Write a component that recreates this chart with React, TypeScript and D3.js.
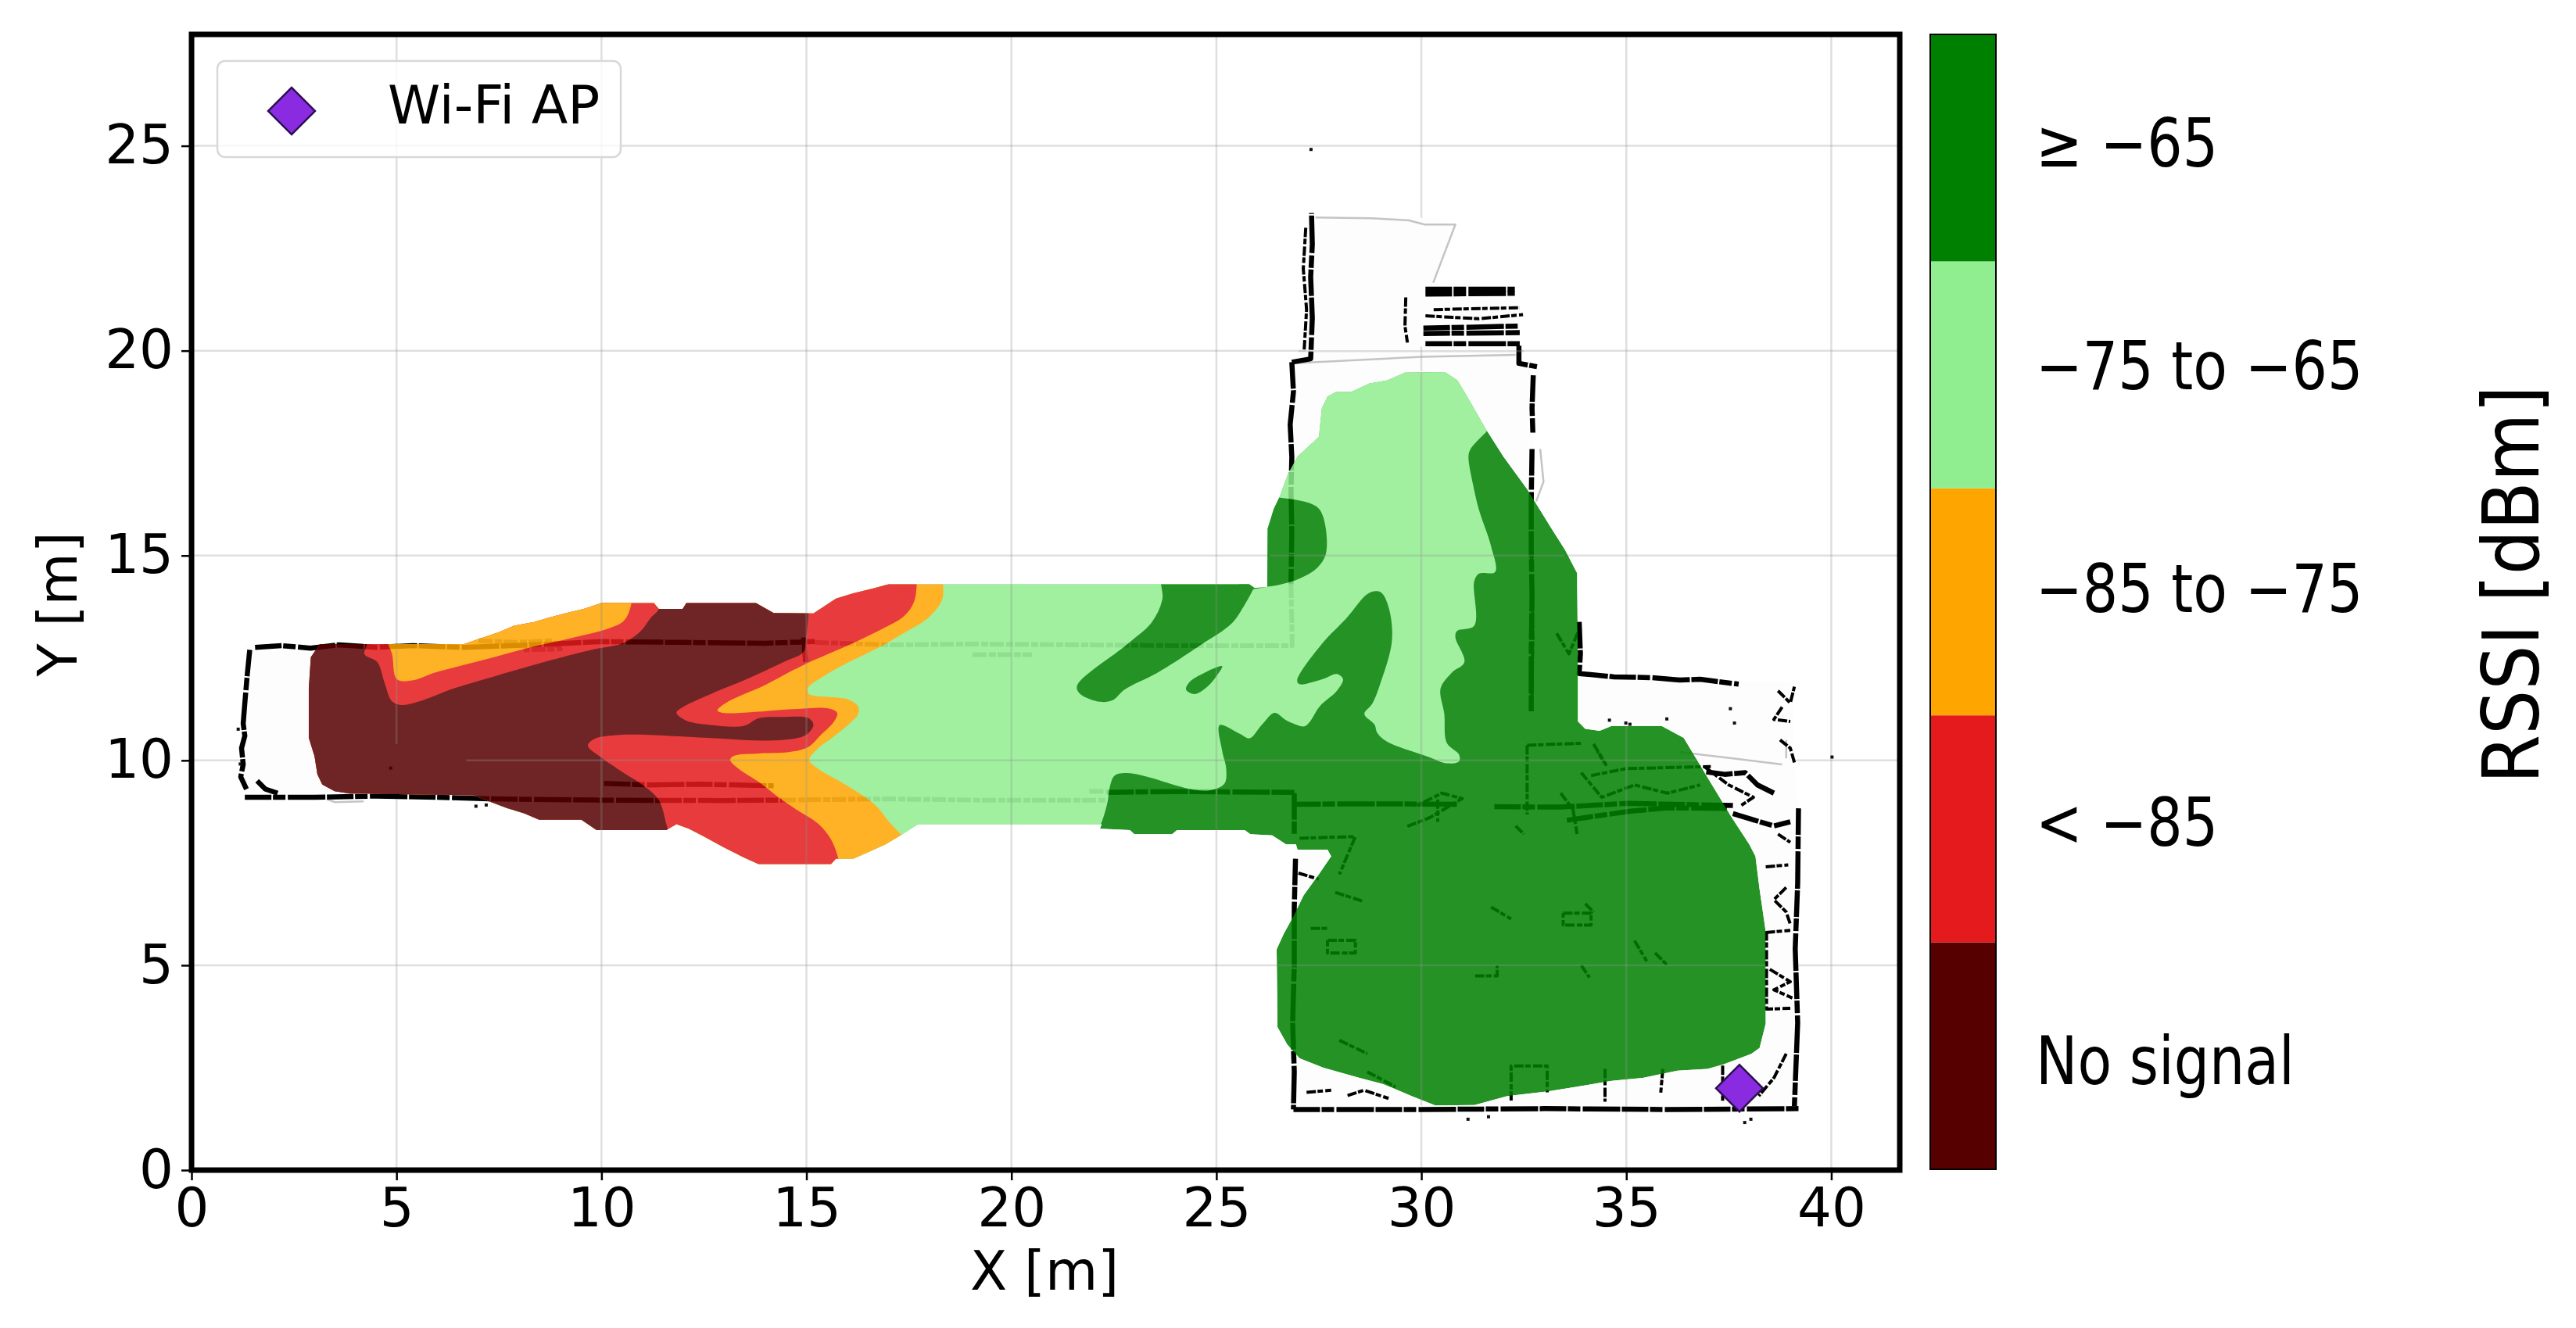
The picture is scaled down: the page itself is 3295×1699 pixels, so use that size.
import { useRef, useEffect } from 'react';
import * as d3 from 'd3';

type Pt = [number, number];

const xTicks = [0, 5, 10, 15, 20, 25, 30, 35, 40];
const yTicks = [0, 5, 10, 15, 20, 25];
const rssiLabels = ['No signal', '< \u221285', '\u221285 to \u221275', '\u221275 to \u221265', '\u2265 \u221265'];
const rssiColors = ['#570000', '#e41a1c', '#ffa500', '#90ee90', '#008000'];
const rssiNudge = [36, 22, 13, 18, 24];
const apPosition: Pt = [37.76, 2.0];

const coverage: Pt[] = [
  [3.13, 12.84], [6.65, 12.84], [7.02, 12.97], [7.5, 13.13], [7.87, 13.29], [8.36, 13.38], [8.73, 13.49],
  [9.15, 13.6], [9.57, 13.7], [10, 13.84], [11.28, 13.84], [11.4, 13.7], [11.98, 13.7], [12.07, 13.84],
  [13.77, 13.84], [14.2, 13.6], [15.17, 13.59], [15.72, 13.95], [16.14, 14.08], [16.63, 14.2], [17, 14.3],
  [25.8, 14.3], [25.93, 14.21], [26.24, 14.23], [26.25, 15.66], [26.4, 16.14], [26.54, 16.43], [26.74, 16.98],
  [26.98, 17.42], [27.5, 17.9], [27.57, 18.59], [27.71, 18.88], [27.91, 18.99], [28.3, 19], [28.73, 19.2],
  [29.17, 19.28], [29.6, 19.47], [30.58, 19.48], [30.88, 19.28], [31.12, 18.88], [31.56, 18.11], [32, 17.42],
  [32.58, 16.62], [33.17, 15.67], [33.5, 15.15], [33.8, 14.57], [33.82, 12.34], [33.82, 10.95], [34, 10.77],
  [34.35, 10.72], [34.64, 10.84], [35.86, 10.84], [36.4, 10.55], [36.73, 10], [37.08, 9.42], [37.57, 8.61],
  [38, 7.95], [38.15, 7.66], [38.25, 6.86], [38.4, 5.83], [38.4, 3.57], [38.25, 2.98], [38.05, 2.84],
  [37.37, 2.58], [36.98, 2.47], [36.25, 2.43], [35.4, 2.25], [34.65, 2.18], [33.77, 2.03], [33.09, 1.92],
  [32.1, 1.81], [31.3, 1.59], [30.34, 1.58], [29.76, 1.81], [29.07, 2.1], [28.49, 2.25], [27.61, 2.5],
  [27.03, 2.73], [26.73, 3.06], [26.49, 3.49], [26.47, 5.39], [26.64, 5.76], [26.88, 6.2], [27.13, 6.71],
  [27.5, 7.22], [27.8, 7.66], [27.71, 7.82], [26.98, 7.82], [26.94, 7.95], [26.7, 7.95], [26.36, 8.17],
  [25.83, 8.2], [25.69, 8.3], [24.04, 8.3], [23.92, 8.2], [23, 8.2], [22.89, 8.3], [22.16, 8.33], [22.2, 8.44],
  [17.72, 8.44], [17.3, 8.17], [16.93, 7.95], [16.51, 7.76], [16.14, 7.6], [15.72, 7.6], [15.6, 7.47],
  [13.83, 7.47], [13.47, 7.63], [12.98, 7.88], [12.5, 8.14], [12.13, 8.33], [11.83, 8.44], [11.58, 8.3],
  [9.88, 8.3], [9.51, 8.55], [8.48, 8.55], [8.11, 8.71], [7.69, 8.84], [7.26, 9], [6.9, 9.15], [4.22, 9.19],
  [3.86, 9.19], [3.49, 9.25], [3.19, 9.41], [3.07, 9.66], [3, 10.1], [2.86, 10.55], [2.86, 11.76], [2.91, 12.52],
];

const lightGreenBand: Pt[] = [
  [32.2, 18.7], [31.6, 18.04], [31.2, 17.6], [31.15, 17.42], [31.27, 16.69], [31.41, 16.1], [31.7, 15.23],
  [31.8, 14.6], [31.41, 14.56], [31.29, 14.37], [31.29, 13.29], [30.87, 13.16], [30.83, 13], [31.05, 12.4],
  [30.74, 12.14], [30.47, 11.76], [30.56, 11.13], [30.62, 10.43], [30.92, 10.14], [30.92, 9.98], [30.62, 9.93],
  [30.19, 10.08], [29.16, 10.46], [28.92, 10.68], [28.86, 10.87], [28.61, 11.13], [28.8, 11.38], [28.98, 11.82],
  [29.28, 12.9], [29.22, 13.67], [29.04, 14.08], [28.89, 14.13], [28.67, 14.05], [28.18, 13.48], [27.57, 12.84],
  [26.97, 11.95], [27.03, 11.86], [27.58, 11.98], [27.94, 12.11], [28.09, 11.98], [27.94, 11.7], [27.52, 11.32],
  [27.27, 10.93], [27.15, 10.83], [26.72, 10.97], [26.42, 11.16], [26.11, 10.87], [25.81, 10.54], [25.57, 10.65],
  [25.08, 10.86], [25.14, 10.24], [25.24, 9.79], [25.2, 9.44], [24.9, 9.28], [24.47, 9.28], [24.04, 9.38],
  [23.31, 9.6], [22.83, 9.69], [22.52, 9.63], [22.4, 9.35], [22.34, 8.96], [22.16, 8.39], [21.85, 7.9],
  [5, 7], [5, 20], [32, 20],
];

const greenIslandA: Pt[] = [
  [23.7, 14.6], [23.68, 13.92], [23.43, 13.38], [22.83, 12.84], [21.6, 11.82], [21.67, 11.63], [22.16, 11.43],
  [22.47, 11.47], [22.76, 11.73], [23.56, 12.14], [24.65, 12.84], [25.38, 13.35], [25.69, 13.8], [25.9, 14.18],
  [26.1, 14.6],
];
const greenIslandB: Pt[] = [
  [25.14, 12.3], [24.71, 12.14], [24.35, 11.92], [24.26, 11.73], [24.47, 11.62], [24.77, 11.79], [25.02, 12.08],
];
const greenIslandC: Pt[] = [
  [26.56, 16.41], [27.42, 16.21], [27.6, 15.96], [27.68, 15.08], [27.47, 14.71], [26.98, 14.42], [26.25, 14.24],
  [25.6, 14.24], [25.6, 16.41],
];

const orangeFront: Pt[] = [
  [18.33, 14.8], [18.33, 14.37], [18.31, 13.92], [17.97, 13.48], [17.36, 13.1], [16.87, 12.81], [15.9, 12.33],
  [15.41, 12.05], [15.05, 11.79], [15.05, 11.63], [15.65, 11.54], [16.01, 11.49], [16.26, 11.32], [16.26, 11.13],
  [16.02, 10.87], [15.66, 10.58], [15.29, 10.3], [15.07, 10.01], [15.29, 9.79], [15.9, 9.44], [16.45, 9.09],
  [16.75, 8.84], [17, 8.52], [17.3, 8.2], [17.48, 8], [18.33, 7.25], [4, 7], [4, 14.8],
];

const redFront: Pt[] = [
  [17.69, 14.8], [17.69, 14.3], [17.62, 13.86], [17.37, 13.51], [16.75, 13.16], [16.02, 12.81], [14.93, 12.33],
  [13.95, 11.82], [13.1, 11.44], [12.83, 11.22], [12.97, 11.16], [13.7, 11.18], [14.68, 11.25], [15.53, 11.27],
  [15.75, 11.16], [15.66, 10.93], [15.35, 10.62], [15.05, 10.33], [14.56, 10.2], [13.84, 10.17], [13.23, 10.11],
  [13.14, 10.01], [13.35, 9.79], [13.84, 9.47], [14.33, 9.09], [14.8, 8.77], [15.29, 8.45], [15.6, 8.07],
  [15.78, 7.6], [15.9, 6.9], [2, 6.9], [2, 14.8],
];

const orangeTopLeft: Pt[] = [
  [4.77, 13.2], [4.8, 12.84], [4.89, 12.6], [5.01, 11.98], [5.38, 11.95], [5.92, 12.14], [6.53, 12.3], [7.38, 12.52],
  [8.36, 12.78], [9.33, 13], [10.18, 13.22], [10.55, 13.41], [10.73, 13.83], [10.73, 14.3], [4.77, 14.3],
];

const noSignal: Pt[] = [
  [4.28, 14], [4.28, 12.85], [4.22, 12.59], [4.53, 12.4], [4.71, 11.89], [4.89, 11.44], [5.13, 11.35], [5.56, 11.44],
  [6.41, 11.76], [7.38, 12.05], [8.6, 12.4], [9.81, 12.71], [10.54, 12.87], [10.96, 13.16], [11.2, 13.48], [11.4, 13.7],
  [11.4, 13.98], [15.05, 13.98], [15.05, 13.59], [14.99, 12.97], [14.93, 12.65], [14.44, 12.4], [13.47, 11.95],
  [12.62, 11.6], [11.95, 11.28], [11.83, 11.16], [12.07, 10.97], [12.62, 10.87], [13.47, 10.84], [13.84, 11.03],
  [14.44, 11.06], [15.05, 11.03], [15.17, 10.87], [14.99, 10.62], [14.44, 10.5], [13.71, 10.49], [12.62, 10.55],
  [11.64, 10.6], [10.43, 10.62], [9.82, 10.52], [9.67, 10.36], [9.94, 10.11], [10.55, 9.69], [11.03, 9.38],
  [11.4, 9.03], [11.58, 8.45], [11.64, 8.2], [11.64, 7.9], [2, 7.9], [2, 14],
];

// floor plan
const floorOutline: Pt[] = [
  [1.3, 12.8], [26.85, 12.8], [26.85, 19.76], [27.18, 19.8], [27.25, 23.3], [30.41, 23.23], [30.83, 23.08], [30.29, 21.66],
  [32.4, 21.6], [32.4, 19.7], [32.75, 19.5], [32.7, 12.1], [39.1, 11.9], [39.1, 9.9], [39.2, 8.83], [39.2, 1.5],
  [26.9, 1.5], [26.9, 9.1], [1.3, 9.1],
];

const blackWalls: Pt[][] = [
  [[1.55, 12.76], [2.2, 12.8], [2.9, 12.74], [3.6, 12.82], [4.5, 12.76], [5.4, 12.8], [6.65, 12.76], [8.8, 12.84], [10, 12.9], [12, 12.88], [14, 12.86], [15.2, 12.9]],
  [[1.42, 12.7], [1.36, 12.1], [1.3, 11.4], [1.26, 10.9], [1.3, 10.6], [1.22, 10.3], [1.26, 9.9], [1.2, 9.6], [1.34, 9.3]],
  [[1.3, 9.1], [3, 9.1], [4.5, 9.13], [6, 9.1], [7.3, 9.06], [10, 9.03], [13, 9.02], [14.4, 9.03]],
  [[1.6, 9.5], [1.8, 9.3], [2.1, 9.2]],
  [[10.06, 9.44], [11.2, 9.4], [12.4, 9.42], [14.2, 9.38]],
  [[14.93, 13], [14.98, 12.4]],
  [[26.84, 19.72], [26.88, 19], [26.8, 18.2], [26.84, 17.4], [26.82, 16.6], [26.84, 15.6], [26.82, 14.3]],
  [[26.84, 19.72], [27.3, 19.8], [27.34, 20.8], [27.3, 21.8], [27.34, 22.6], [27.32, 23.36]],
  [[30.1, 21.5], [32.28, 21.5]],
  [[30.1, 21.38], [32.28, 21.4]],
  [[30.05, 20.55], [32.35, 20.6]],
  [[30.05, 20.42], [32.4, 20.44]],
  [[30.1, 20.17], [32.4, 20.17]],
  [[32.38, 20.12], [32.38, 19.69], [32.82, 19.61]],
  [[32.73, 19.4], [32.7, 18.6], [32.72, 18]],
  [[32.7, 17.6], [32.68, 16.32], [32.68, 15.2], [32.7, 14], [32.68, 12.6], [32.68, 11.2]],
  [[33.85, 13.38], [33.88, 12.6], [33.85, 12.12], [34.7, 12.04], [35.6, 12.02], [36.3, 11.96], [36.8, 11.98], [37.74, 11.86]],
  [[26.93, 7.6], [26.9, 6.4], [26.9, 5], [26.86, 3.6], [26.9, 2.4], [26.88, 1.48]],
  [[26.88, 1.48], [30, 1.48], [33, 1.5], [36, 1.48], [39.2, 1.5]],
  [[39.2, 8.83], [39.18, 7], [39.12, 5.4], [39.18, 3.6], [39.1, 1.56]],
  [[36.95, 9.72], [37.4, 9.66], [37.9, 9.7], [38.2, 9.4], [38.6, 9.2]],
  [[37.6, 8.7], [38.1, 8.55], [38.6, 8.4], [39, 8.5]],
  [[33.55, 8.54], [35.1, 8.76], [36, 8.84], [37.45, 8.83]],
  [[31.78, 8.87], [33.4, 8.86], [35, 8.95], [37.6, 8.9]],
  [[22.34, 9.22], [24, 9.24], [26.9, 9.22]],
  [[26.9, 8.93], [28.6, 8.94], [30.87, 8.93]],
  [[26.9, 9.2], [26.9, 8.2]],
];

const thinBlackWalls: Pt[][] = [
  [[27.18, 23], [27.12, 22], [27.2, 21], [27.14, 20]],
  [[29.62, 21.3], [29.6, 20.6], [29.66, 20.2]],
  [[30.3, 21], [31, 21.02], [32.4, 21.05]],
  [[30.1, 20.85], [31.4, 20.78], [32.48, 20.88]],
  [[32.69, 15], [32.72, 13], [32.69, 11.2]],
  [[33.3, 13.1], [33.6, 12.6], [33.85, 13.2]],
  [[32.58, 10.37], [32.58, 8.68]],
  [[32.58, 10.37], [33.94, 10.42]],
  [[34.14, 9.63], [35, 9.8], [37.06, 9.85]],
  [[33.9, 9.7], [34.4, 9.1], [35.2, 9.4], [36, 9.2], [36.8, 9.4]],
  [[34.2, 10.4], [34.5, 9.9], [34.3, 10.2]],
  [[33.4, 9.2], [33.7, 8.8], [33.8, 8.2]],
  [[32.3, 8.4], [32.5, 8.2]],
  [[29.66, 8.39], [30.2, 8.6], [31, 9.07], [30.5, 9.2], [29.9, 8.9]],
  [[30.4, 9.05], [30.4, 8.5]],
  [[27.03, 8.1], [28.39, 8.14], [28, 7.22]],
  [[27.9, 6.78], [28.58, 6.56]],
  [[27.3, 5.9], [27.7, 5.9]],
  [[27.71, 5.61], [28.39, 5.61], [28.39, 5.3], [27.71, 5.3], [27.71, 5.61]],
  [[28, 3.17], [28.68, 2.84]],
  [[28.68, 2.4], [29.37, 2.03]],
  [[32.19, 1.7], [32.19, 2.54], [33.07, 2.54], [33.07, 1.9]],
  [[34.48, 2.47], [34.48, 1.67]],
  [[35.89, 2.47], [35.84, 1.89]],
  [[31.31, 4.74], [31.85, 4.74], [31.85, 5]],
  [[31.7, 6.42], [32.19, 6.13]],
  [[33.46, 6.27], [34.14, 6.27], [34.14, 5.98], [33.46, 5.98], [33.46, 6.27]],
  [[34, 6.5], [34.2, 6.3]],
  [[33.9, 5], [34.1, 4.7]],
  [[35.2, 5.6], [35.5, 5.1]],
  [[35.7, 5.3], [36, 5]],
  [[28.2, 1.82], [28.6, 1.95], [29.2, 1.75]],
  [[27.2, 1.9], [27.8, 1.95]],
  [[37.35, 2.55], [37.35, 1.67]],
  [[38.9, 2.84], [38.6, 2.25], [38.23, 1.81]],
  [[27, 7.25], [27.5, 7.1]],
  [[38.42, 5.83], [38.42, 4.5], [38.42, 3.93], [39, 3.95]],
  [[38.5, 4.9], [39, 4.6], [38.6, 4.4], [39.05, 4.2]],
  [[38.4, 5.8], [39, 5.85]],
  [[38.9, 6.9], [38.6, 6.6], [38.9, 6.3], [39, 6]],
  [[38.4, 7.4], [38.95, 7.45]],
  [[38.7, 8.2], [39, 8]],
  [[38.8, 11.3], [38.6, 11], [39, 10.95]],
  [[38.7, 11.7], [39, 11.4], [39.1, 11.8]],
  [[38.75, 10.5], [39, 10.3], [39.1, 9.95]],
  [[36.9, 9.85], [37.5, 9.4], [38.1, 9.1], [37.8, 8.9]],
];

const grayWalls: Pt[][] = [
  [[7, 12.92], [7.9, 12.88], [8.8, 12.92], [9, 12.72], [8.1, 12.7]],
  [[15.2, 12.88], [17, 12.82], [19, 12.84], [22, 12.82], [24.4, 12.8], [26.85, 12.8], [26.82, 14.3]],
  [[19.05, 12.58], [20.5, 12.58]],
  [[14.4, 9.03], [17, 9.06], [19.2, 9.03], [22.3, 9.03]],
  [[21.9, 9.25], [22.34, 9.24]],
];

const faintWalls: Pt[][] = [
  [[27.42, 23.25], [28.8, 23.23], [29.7, 23.18], [30.08, 23.08], [30.83, 23.08], [30.29, 21.66]],
  [[32.9, 17.6], [32.98, 16.8], [32.8, 16.32]],
  [[26.96, 19.7], [30, 19.85], [32.3, 19.9]],
  [[38.9, 10.5], [38.9, 10.05]],
  [[36.3, 10.2], [37.6, 10.05], [38.8, 9.9]],
  [[3.3, 9.05], [3.5, 8.98], [4.2, 9]],
];

const specks: Pt[] = [
  [39.98, 10.12], [35.05, 10.92], [34.55, 11.02], [35.95, 11.05], [34.95, 10.95], [37.5, 11.3], [37.6, 10.95],
  [4.82, 9.85], [6.9, 8.92], [7.15, 8.95], [1.1, 10.8], [1.15, 9.95], [38, 1.28], [31.1, 1.28], [31.6, 1.34],
  [37.85, 1.2], [27.27, 24.95],
];

// grid runs that stay visible through the heat layer
const gridOverHeat: [Pt, Pt][] = [
  [[6.7, 10], [36.7, 10]], [[26.3, 15], [33.5, 15]], [[26.47, 5], [38.4, 5]],
  [[5, 10.4], [5, 12.7]], [[10, 8.3], [10, 13.84]], [[15, 7.47], [15, 13.6]], [[20, 8.44], [20, 14.3]],
  [[25, 8.3], [25, 14.3]], [[30, 1.58], [30, 19.47]], [[35, 2.2], [35, 10.84]], [[27, 19.99], [32.5, 19.99]],
  [[30, 19.5], [30, 20.1]], [[35, 1.55], [35, 2.2]],
];

export default function App() {
  const svgRef = useRef<SVGSVGElement>(null);

  useEffect(() => {
    const svg = d3.select(svgRef.current);
    svg.selectAll('*').remove();

    const left = 245, right = 2430, top = 44, bottom = 1497;
    const x = d3.scaleLinear().domain([0, 41.67]).range([left, right]);
    const y = d3.scaleLinear().domain([0, 27.72]).range([bottom, top]);
    const gridStroke = 'rgba(150,150,150,0.3)';

    svg.append('clipPath').attr('id', 'plot-area')
      .append('rect').attr('x', left).attr('y', top).attr('width', right - left).attr('height', bottom - top);

    const straight = d3.line<Pt>().x(d => x(d[0])).y(d => y(d[1]));
    const smooth = d3.line<Pt>().x(d => x(d[0])).y(d => y(d[1])).curve(d3.curveCatmullRomClosed.alpha(0.5));

    svg.append('clipPath').attr('id', 'coverage')
      .append('path').attr('d', straight(coverage) + 'Z');

    const grid = svg.append('g');
    xTicks.forEach(t => {
      grid.append('line').attr('x1', x(t)).attr('x2', x(t)).attr('y1', top).attr('y2', bottom)
        .attr('stroke', gridStroke).attr('stroke-width', 2.5);
    });
    yTicks.forEach(t => {
      grid.append('line').attr('x1', left).attr('x2', right).attr('y1', y(t)).attr('y2', y(t))
        .attr('stroke', gridStroke).attr('stroke-width', 2.5);
    });

    const plot = svg.append('g').attr('clip-path', 'url(#plot-area)');
    plot.append('path').attr('d', straight(floorOutline) + 'Z').attr('fill', '#fdfdfd');

    const drawWalls = (lines: Pt[][], color: string, width: number, dash?: string) => {
      lines.forEach(points => {
        plot.append('path').attr('d', straight(points)).attr('fill', 'none')
          .attr('stroke', color).attr('stroke-width', width)
          .attr('stroke-linejoin', 'round')
          .attr('stroke-dasharray', dash ?? null);
      });
    };
    drawWalls(faintWalls, '#c4c4c4', 2.5);
    drawWalls(grayWalls, '#8c8c8c', 6, '18 3 9 2');
    drawWalls(blackWalls, '#000', 6.5, '34 2 16 3 48 2');
    drawWalls(thinBlackWalls, '#000', 4, '12 2 7 3');
    specks.forEach(p => {
      plot.append('rect').attr('x', x(p[0])).attr('y', y(p[1])).attr('width', 4).attr('height', 4).attr('fill', '#111');
    });

    // bands are stacked solid and the whole group fades, so they never mix with each other
    const heat = plot.append('g').attr('opacity', 0.85);
    const bands = heat.append('g').attr('clip-path', 'url(#coverage)');
    bands.append('path').attr('d', straight(coverage) + 'Z').attr('fill', rssiColors[4]);
    const layers: [Pt[], string][] = [
      [lightGreenBand, rssiColors[3]],
      [greenIslandA, rssiColors[4]],
      [greenIslandB, rssiColors[4]],
      [greenIslandC, rssiColors[4]],
      [orangeFront, rssiColors[2]],
      [redFront, rssiColors[1]],
      [orangeTopLeft, rssiColors[2]],
      [noSignal, rssiColors[0]],
    ];
    layers.forEach(([points, color]) => {
      bands.append('path').attr('d', smooth(points)).attr('fill', color);
    });

    gridOverHeat.forEach(([a, b]) => {
      plot.append('line').attr('x1', x(a[0])).attr('x2', x(b[0])).attr('y1', y(a[1])).attr('y2', y(b[1]))
        .attr('stroke', gridStroke).attr('stroke-width', 2.5);
    });

    plot.append('path')
      .attr('d', d3.symbol().type(d3.symbolSquare).size(1800)())
      .attr('transform', `translate(${x(apPosition[0])},${y(apPosition[1])}) rotate(45)`)
      .attr('fill', '#8a2be2').attr('stroke', '#2a1050').attr('stroke-width', 2.5);

    // frame and axes
    svg.append('rect').attr('x', left).attr('y', top).attr('width', right - left).attr('height', bottom - top)
      .attr('fill', 'none').attr('stroke', '#000').attr('stroke-width', 7);

    const xAxis = svg.append('g').attr('transform', `translate(0,${bottom})`)
      .call(d3.axisBottom(x).tickValues(xTicks).tickSize(13).tickPadding(10).tickFormat(d3.format('d') as any));
    const yAxis = svg.append('g').attr('transform', `translate(${left},0)`)
      .call(d3.axisLeft(y).tickValues(yTicks).tickSize(13).tickPadding(10).tickFormat(d3.format('d') as any));
    [xAxis, yAxis].forEach(axis => {
      axis.select('.domain').remove();
      axis.selectAll('line').attr('stroke', '#000').attr('stroke-width', 2.5);
      axis.selectAll('text').attr('font-family', '"DejaVu Sans"').attr('font-size', 69).attr('fill', '#000');
    });

    const label = (text: string, tx: number, ty: number, size: number, extra = '', anchor = 'middle') =>
      svg.append('text').attr('transform', `translate(${tx},${ty}) ${extra}`)
        .attr('font-family', '"DejaVu Sans"').attr('font-size', size).attr('text-anchor', anchor)
        .attr('fill', '#000').text(text);

    label('X [m]', 1336, 1650, 69);
    label('Y [m]', 98, 773, 69, 'rotate(-90)');

    // legend
    svg.append('rect').attr('x', 278).attr('y', 78).attr('width', 516).attr('height', 123).attr('rx', 10)
      .attr('fill', 'rgba(255,255,255,0.8)').attr('stroke', '#d8d8d8').attr('stroke-width', 2.5);
    svg.append('path')
      .attr('d', d3.symbol().type(d3.symbolSquare).size(1800)())
      .attr('transform', 'translate(373,142) rotate(45)')
      .attr('fill', '#8a2be2').attr('stroke', '#2a1050').attr('stroke-width', 2.5);
    label('Wi-Fi AP', 496, 158, 68, '', 'start');

    // colour key
    const band = d3.scaleBand<string>().domain(rssiLabels).range([bottom - 1, top]);
    const keyLeft = 2469, keyWidth = 84;
    rssiLabels.forEach((name, i) => {
      svg.append('rect').attr('x', keyLeft).attr('y', band(name)!).attr('width', keyWidth).attr('height', band.bandwidth())
        .attr('fill', rssiColors[i]);
      label(name, 2604, band(name)! + band.bandwidth() / 2 + rssiNudge[i], 85, 'scale(0.84,1)', 'start');
    });
    svg.append('rect').attr('x', keyLeft).attr('y', top).attr('width', keyWidth).attr('height', bottom - 1 - top)
      .attr('fill', 'none').attr('stroke', '#000').attr('stroke-width', 2);

    label('RSSI [dBm]', 3247, 748, 99, 'rotate(-90) scale(0.91,1)');
  }, []);

  return <svg ref={svgRef} width={3295} height={1699} style={{ position: 'absolute', left: 0, top: 0, background: '#fff' }} />;
}
